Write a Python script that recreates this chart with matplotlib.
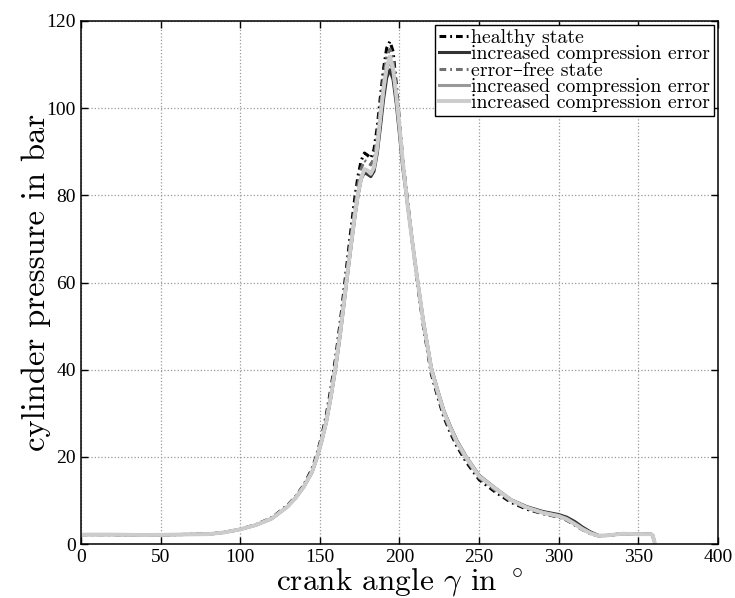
import matplotlib
matplotlib.use('Agg')
import matplotlib.pyplot as plt

plt.rcParams['mathtext.fontset'] = 'cm'
plt.rcParams['axes.unicode_minus'] = False

# Kurbelwinkel in Grad
winkel = [0, 20, 40, 60, 80, 90, 100, 110, 120, 130, 135, 140, 145, 148, 151,
          154, 157, 160, 163, 166, 169, 172, 174, 176, 178, 180, 182, 184, 186,
          188, 190, 192, 194, 196, 198, 200, 202, 205, 208, 211, 215, 220, 224,
          228, 232, 236, 242, 250, 260, 270, 280, 290, 300, 305, 310, 315, 320,
          325, 330, 340, 350, 358, 359, 360]

# Zylinderdruck in bar
healthy = [2.2, 2.2, 2.1, 2.2, 2.3, 2.7, 3.4, 4.5, 6.1, 9.0, 11.0, 13.6, 17.2,
           20.4, 24.5, 29.5, 35.8, 43.0, 51.5, 61.0, 70.5, 79.5, 84.5, 88.0,
           89.7, 89.2, 88.5, 90.5, 95.5, 102.5, 109.0, 113.8, 115.3, 113.0,
           105.5, 97.0, 88.5, 79.0, 69.5, 60.5, 50.0, 39.0, 33.8, 29.0, 25.5,
           22.5, 18.8, 14.8, 12.0, 9.6, 8.0, 7.0, 6.2, 5.5, 4.4, 3.3, 2.4, 1.9,
           2.0, 2.4, 2.3, 2.3, 2.0, 0.6]
incr_dark = [2.2, 2.2, 2.1, 2.2, 2.3, 2.7, 3.4, 4.4, 5.9, 8.7, 10.7, 13.2, 16.4,
             19.5, 23.3, 27.8, 33.7, 40.5, 48.5, 57.5, 66.5, 75.0, 80.0, 83.8,
             85.2, 84.8, 84.3, 85.5, 89.5, 95.5, 102.0, 107.0, 108.8, 106.5,
             101.0, 94.0, 86.5, 78.0, 69.5, 61.5, 51.2, 40.5, 35.3, 30.5, 27.0,
             23.8, 20.0, 15.8, 12.9, 10.2, 8.6, 7.5, 6.8, 6.2, 5.2, 3.9, 2.8, 2.0,
             2.0, 2.4, 2.3, 2.3, 2.0, 0.6]
errorfree = [2.2, 2.2, 2.1, 2.2, 2.3, 2.7, 3.4, 4.5, 6.0, 8.9, 10.9, 13.4, 16.8,
             20.0, 24.0, 28.8, 34.8, 42.0, 50.3, 59.5, 68.8, 77.5, 82.5, 86.2,
             88.0, 87.5, 87.0, 88.5, 93.5, 100.5, 107.0, 111.8, 113.5, 111.0,
             104.0, 96.5, 88.0, 78.5, 69.5, 61.0, 50.5, 39.5, 34.3, 29.5, 26.0,
             23.0, 19.3, 15.2, 12.4, 9.9, 8.2, 7.1, 6.3, 5.6, 4.5, 3.4, 2.4, 1.9,
             2.0, 2.4, 2.3, 2.3, 2.0, 0.6]
incr_gray = [2.2, 2.2, 2.1, 2.2, 2.3, 2.7, 3.4, 4.4, 5.9, 8.7, 10.7, 13.2, 16.5,
             19.7, 23.5, 28.0, 34.0, 41.0, 49.0, 58.0, 67.0, 75.5, 80.5, 84.0,
             85.8, 85.5, 84.8, 86.2, 90.5, 97.5, 104.0, 109.0, 110.8, 108.5,
             102.5, 95.5, 87.5, 78.0, 69.5, 61.3, 51.0, 40.2, 35.0, 30.2, 26.7,
             23.5, 19.8, 15.6, 12.8, 10.1, 8.4, 7.3, 6.6, 5.9, 4.8, 3.6, 2.6, 1.9,
             2.0, 2.4, 2.3, 2.3, 2.0, 0.6]
incr_light = [2.2, 2.2, 2.1, 2.2, 2.3, 2.7, 3.4, 4.4, 5.9, 8.7, 10.7, 13.2, 16.5,
              19.7, 23.5, 28.0, 34.0, 41.0, 49.0, 58.0, 67.0, 75.5, 80.5, 84.0,
              86.0, 85.7, 85.0, 86.5, 91.0, 98.0, 104.5, 109.5, 111.8, 109.0,
              103.0, 96.0, 88.0, 78.0, 69.5, 61.3, 51.0, 40.2, 35.0, 30.2, 26.7,
              23.5, 19.8, 15.6, 12.8, 10.1, 8.4, 7.2, 6.4, 5.7, 4.6, 3.4, 2.5, 1.9,
              2.0, 2.4, 2.3, 2.3, 2.0, 0.6]

labels = ['healthy state', 'increased compression error', 'error\u2013free state',
          'increased compression error', 'increased compression error']

fig = plt.figure(figsize=(7.35, 5.98), dpi=100)
ax = fig.add_axes([0.110, 0.090, 0.867, 0.875])

strichpunkt = (2.2, 1.3, 0.6, 1.3)
ax.plot(winkel, healthy, color='black', ls='-.', dashes=strichpunkt, lw=2.2, label=labels[0])
ax.plot(winkel, incr_dark, color='#333333', ls='-', lw=2.2, label=labels[1])
ax.plot(winkel, errorfree, color='#707070', ls='-.', dashes=strichpunkt, lw=2.2, label=labels[2])
ax.plot(winkel, incr_gray, color='#999999', ls='-', lw=2.2, label=labels[3])
ax.plot(winkel, incr_light, color='#cccccc', ls='-', lw=2.8, label=labels[4])

ax.set_xlim(0, 400)
ax.set_ylim(0, 120)
ax.set_xticks(range(0, 401, 50))
ax.set_yticks(range(0, 121, 20))
ax.grid(True, ls=':', color='#999999', lw=0.9)
ax.tick_params(direction='in', top=True, right=True, length=5, width=1)
for lab in ax.get_xticklabels() + ax.get_yticklabels():
    lab.set_family('Liberation Serif')
    lab.set_fontsize(14)
for s in ax.spines.values():
    s.set_linewidth(1.1)

ax.set_xlabel(r'crank angle $\gamma$ in $^\circ$', family=['cmr10', 'DejaVu Serif'],
              fontsize=22.5, labelpad=0)
ax.set_ylabel('cylinder pressure in bar', family=['cmr10', 'DejaVu Serif'],
              fontsize=23.5, labelpad=-3)

leg = ax.legend(loc='upper right', prop={'family': ['cmr10', 'DejaVu Serif'], 'size': 14.3},
                fancybox=False, edgecolor='black', framealpha=1, handlelength=1.55,
                handletextpad=0.1, labelspacing=-0.08, borderpad=0.2,
                borderaxespad=0.2)
leg.get_frame().set_linewidth(1.0)

plt.savefig('out.png')
